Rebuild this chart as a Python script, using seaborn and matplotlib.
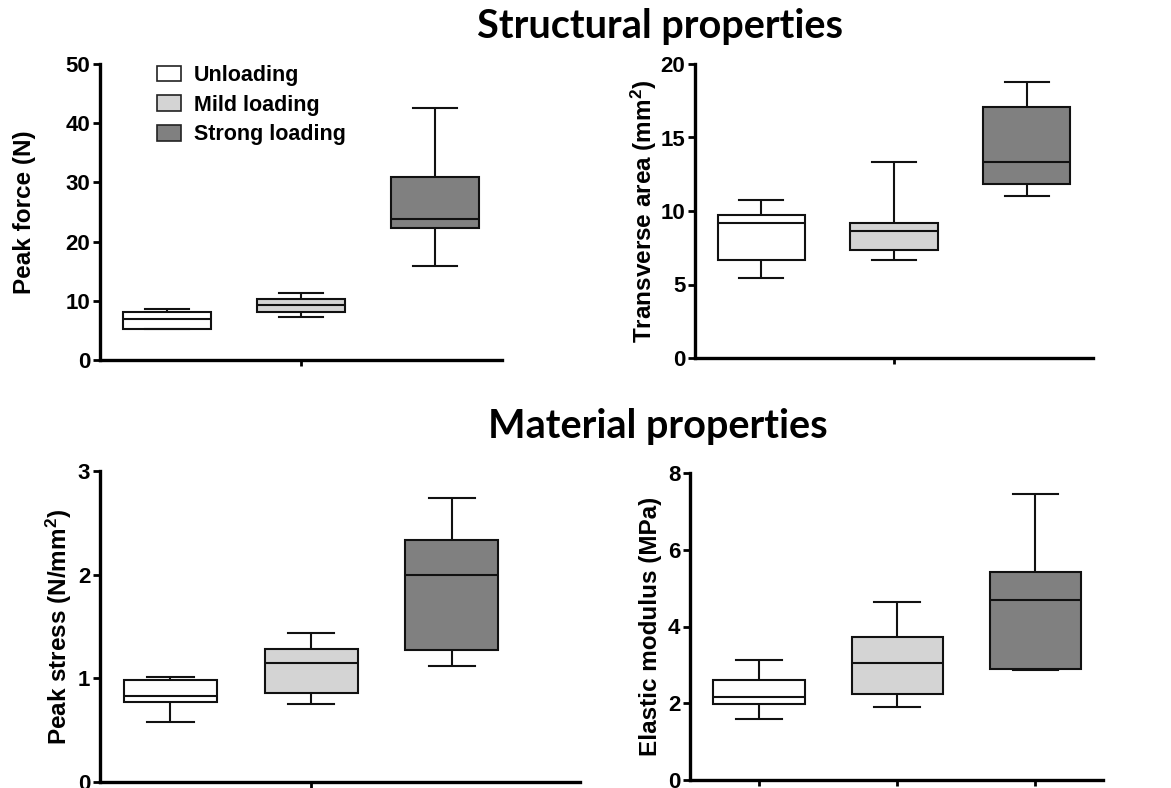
import pandas as pd
import seaborn as sns
import matplotlib.pyplot as plt
from matplotlib.patches import Patch

groups = ["Unloading", "Mild loading", "Strong loading"]
colors = ["#ffffff", "#d4d4d4", "#808080"]

# five-number summaries per group: min, Q1, median, Q3, max
peak_force = {
    "Unloading": [5.3, 5.3, 6.9, 8.1, 8.6],
    "Mild loading": [7.3, 8.1, 9.3, 10.3, 11.3],
    "Strong loading": [15.8, 22.3, 23.8, 30.9, 42.6],
}
transverse_area = {
    "Unloading": [5.45, 6.65, 9.15, 9.75, 10.75],
    "Mild loading": [6.65, 7.35, 8.65, 9.15, 13.3],
    "Strong loading": [11.05, 11.85, 13.3, 17.1, 18.75],
}
peak_stress = {
    "Unloading": [0.58, 0.77, 0.83, 0.98, 1.01],
    "Mild loading": [0.75, 0.86, 1.15, 1.28, 1.44],
    "Strong loading": [1.12, 1.27, 2.0, 2.33, 2.74],
}
elastic_modulus = {
    "Unloading": [1.58, 1.97, 2.17, 2.61, 3.13],
    "Mild loading": [1.9, 2.25, 3.06, 3.73, 4.65],
    "Strong loading": [2.86, 2.9, 4.69, 5.41, 7.45],
}

W, H = 1171, 788
fig = plt.figure(figsize=(W / 100, H / 100), dpi=100)


def px_axes(left, right, top, bottom):
    return fig.add_axes([left / W, 1 - bottom / H, (right - left) / W, (bottom - top) / H])


tick_font = dict(family="Liberation Sans", weight="bold", size=16)
label_font = dict(family="Liberation Sans", weight="bold", size=17.5)
plt.rcParams["mathtext.fontset"] = "custom"
plt.rcParams["mathtext.rm"] = "Liberation Sans:bold"
plt.rcParams["mathtext.it"] = "Liberation Sans:bold"
plt.rcParams["mathtext.bf"] = "Liberation Sans:bold"

# data, label, ymax, step, (left, right, top, bottom) px, xlim right, x ticks, label x px
panels = [
    (peak_force, "Peak force (N)", 50, 10, (100, 502, 64, 360), 2.5, [1], 25),
    (transverse_area, r"Transverse area (mm$^2$)", 20, 5, (695, 1093, 64, 358), 2.5, [1], 644),
    (peak_stress, r"Peak stress (N/mm$^2$)", 3, 1, (100, 580, 471, 782), 2.91, [1], 59),
    (elastic_modulus, "Elastic modulus (MPa)", 8, 2, (690, 1103, 473, 780), 2.49, [0, 1, 2], 650),
]

axes = []
for data, ylabel, ymax, ystep, box, xright, xticks, label_x in panels:
    ax = px_axes(*box)
    df = pd.DataFrame(
        [(g, v) for g in groups for v in data[g]], columns=["group", "value"]
    )
    sns.boxplot(
        data=df, x="group", y="value", hue="group", order=groups, hue_order=groups,
        palette=colors, whis=(0, 100), width=0.66, linecolor="#111111",
        linewidth=1.5, showfliers=False, legend=False, ax=ax, saturation=1,
    )
    ax.set_xlim(-0.5, xright)
    ax.set_ylim(0, ymax)
    ax.set_yticks(range(0, ymax + 1, ystep))
    ax.set_yticklabels([str(v) for v in range(0, ymax + 1, ystep)], fontdict=tick_font)
    ax.set_xticks(xticks)
    ax.set_xticklabels([])
    ax.set_xlabel("")
    ax.set_ylabel(ylabel, fontdict=label_font)
    ax.yaxis.label.set_va("center")
    yc = 1 - (box[2] + box[3]) / 2 / H
    ax.yaxis.set_label_coords(label_x / W, yc, transform=fig.transFigure)
    for s in ["top", "right"]:
        ax.spines[s].set_visible(False)
    for s in ["left", "bottom"]:
        ax.spines[s].set_linewidth(2.4)
    ax.tick_params(axis="y", length=5, width=2, pad=2)
    ax.tick_params(axis="x", length=4, width=2)
    ax.patch.set_alpha(0)
    axes.append(ax)

handles = [Patch(facecolor=c, edgecolor="#222222", linewidth=1.2) for c in colors]
axes[0].legend(
    handles, groups, loc="upper left", bbox_to_anchor=(157 / W, 1 - 65 / H),
    bbox_transform=fig.transFigure, frameon=False, borderpad=0, borderaxespad=0,
    handlelength=1.1, handleheight=0.75, handletextpad=0.6, labelspacing=0.4,
    prop=dict(family="Liberation Sans", weight="bold", size=15.5),
)

title_font = dict(family="Lato", weight="bold", size=28.5, ha="center", va="baseline")
fig.text(660 / W, 1 - 38 / H, "Structural properties", **title_font)
fig.text(658 / W, 1 - 438 / H, "Material properties", **title_font)

fig.savefig("out.png", dpi=100)
